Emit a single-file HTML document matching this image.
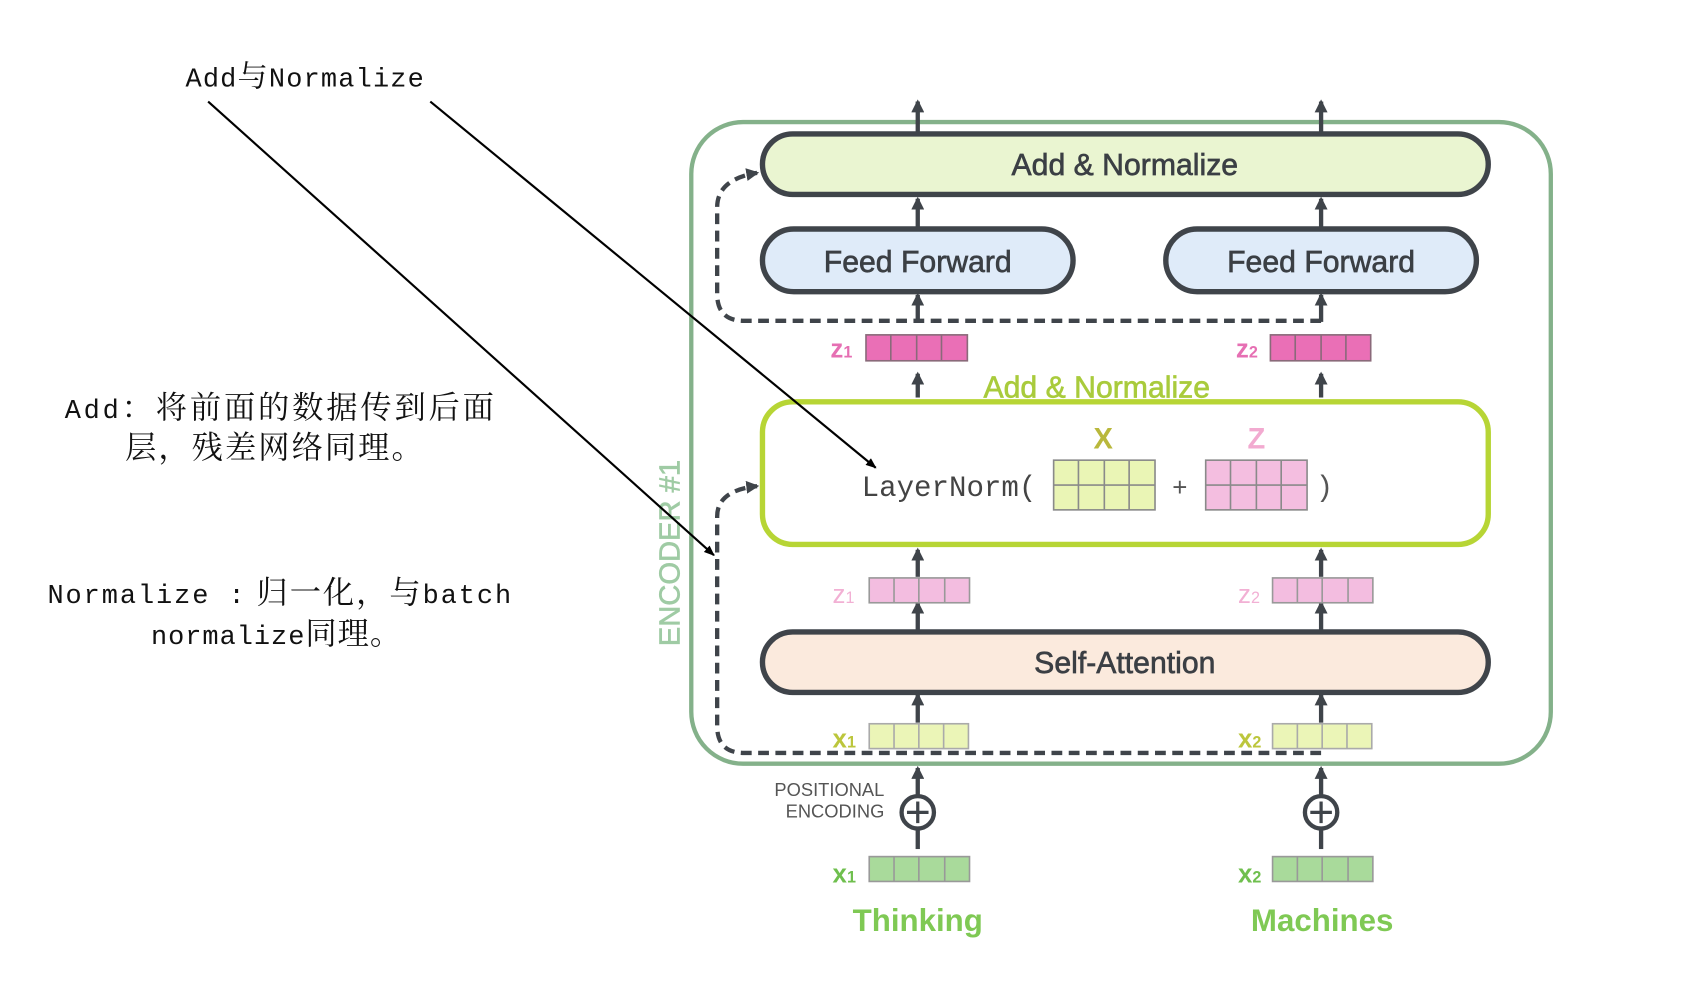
<!DOCTYPE html>
<html><head><meta charset="utf-8"><style>
html,body{margin:0;padding:0;background:#fff;}
svg{display:block}
.s{font-family:"Liberation Sans","DejaVu Sans",sans-serif;}
.m{font-family:"Liberation Mono","Noto Serif CJK SC",monospace;}
.c{font-family:"Noto Serif CJK SC","Noto Sans CJK SC",serif;}
</style></head><body>
<svg width="1691" height="983" viewBox="0 0 1568 910" preserveAspectRatio="none" xmlns="http://www.w3.org/2000/svg">
<defs>
<marker id="ah" markerWidth="12" markerHeight="12" refX="10" refY="6" orient="auto" markerUnits="userSpaceOnUse"><path d="M0,0 L12,6 L0,12 z" fill="#3f444a"/></marker>
<marker id="bk" markerWidth="10" markerHeight="8" refX="9" refY="4" orient="auto" markerUnits="userSpaceOnUse"><path d="M0,0 L10,4 L0,8 z" fill="#000"/></marker>
</defs>
<rect x="641" y="113" width="797" height="594" rx="48" fill="none" stroke="#84b18a" stroke-width="4"/>
<text class="s" x="0" y="0" transform="translate(630,512) rotate(-90)" text-anchor="middle" font-size="27" fill="#9fcba4" stroke="#9fcba4" stroke-width="0.6">ENCODER #1</text>

<g stroke="#3f444a" stroke-width="4" fill="none">
<line x1="851" y1="122" x2="851" y2="94" marker-end="url(#ah)"/>
<line x1="1225" y1="122" x2="1225" y2="94" marker-end="url(#ah)"/>
<line x1="851" y1="212" x2="851" y2="184" marker-end="url(#ah)"/>
<line x1="1225" y1="212" x2="1225" y2="184" marker-end="url(#ah)"/>
<line x1="851" y1="298" x2="851" y2="273" marker-end="url(#ah)"/>
<line x1="1225" y1="298" x2="1225" y2="273" marker-end="url(#ah)"/>
<line x1="851" y1="368" x2="851" y2="346" marker-end="url(#ah)"/>
<line x1="1225" y1="368" x2="1225" y2="346" marker-end="url(#ah)"/>
<line x1="851" y1="534" x2="851" y2="509" marker-end="url(#ah)"/>
<line x1="1225" y1="534" x2="1225" y2="509" marker-end="url(#ah)"/>
<line x1="851" y1="584" x2="851" y2="558" marker-end="url(#ah)"/>
<line x1="1225" y1="584" x2="1225" y2="558" marker-end="url(#ah)"/>
<line x1="851" y1="669" x2="851" y2="643" marker-end="url(#ah)"/>
<line x1="1225" y1="669" x2="1225" y2="643" marker-end="url(#ah)"/>
<line x1="851" y1="738" x2="851" y2="711" marker-end="url(#ah)"/>
<line x1="1225" y1="738" x2="1225" y2="711" marker-end="url(#ah)"/>
<line x1="851" y1="766" x2="851" y2="786"/>
<line x1="1225" y1="766" x2="1225" y2="786"/>
<path d="M1225,297 L690,297 Q665,297 665,272 L665,192 Q665,166 702,160" stroke-dasharray="10 6" marker-end="url(#ah)"/>
<path d="M1225,697 L690,697 Q665,697 665,672 L665,478 Q665,454 702,450" stroke-dasharray="10 6" marker-end="url(#ah)"/>
</g>

<g class="s" font-size="28" fill="#3b3f44" stroke="#3b3f44" stroke-width="0.6" text-anchor="middle">
<rect x="707" y="124" width="673" height="56" rx="28" fill="#eaf5d1" stroke="#3f444a" stroke-width="5"/>
<text x="1043" y="162">Add &amp; Normalize</text>
<rect x="707" y="212" width="288" height="58" rx="29" fill="#dfebf9" stroke="#3f444a" stroke-width="5"/>
<text x="851" y="252">Feed Forward</text>
<rect x="1081" y="212" width="288" height="58" rx="29" fill="#dfebf9" stroke="#3f444a" stroke-width="5"/>
<text x="1225" y="252">Feed Forward</text>
</g>

<g stroke="#8a6a7a" stroke-width="1.5" fill="#ea6fb6">
<rect x="803" y="310" width="94" height="24"/><rect x="1178" y="310" width="93" height="24"/>
</g>
<g stroke="#8a6a7a" stroke-width="1.5">
<line x1="826" y1="310" x2="826" y2="334"/><line x1="850" y1="310" x2="850" y2="334"/><line x1="873" y1="310" x2="873" y2="334"/>
<line x1="1201" y1="310" x2="1201" y2="334"/><line x1="1225" y1="310" x2="1225" y2="334"/><line x1="1248" y1="310" x2="1248" y2="334"/>
</g>
<text class="s" x="770" y="331" font-size="24" font-weight="bold" fill="#e66fb3">z<tspan font-size="15">1</tspan></text>
<text class="s" x="1146" y="331" font-size="24" font-weight="bold" fill="#e66fb3">z<tspan font-size="15">2</tspan></text>

<text class="s" x="1017" y="368" text-anchor="middle" font-size="28" fill="#a9cb3c" stroke="#a9cb3c" stroke-width="0.6">Add &amp; Normalize</text>
<rect x="707" y="372" width="673" height="132" rx="28" fill="#fff" stroke="#b7d535" stroke-width="5"/>
<text class="m" x="799" y="459" font-size="27" fill="#444">LayerNorm(</text>
<text class="s" x="1023" y="415" text-anchor="middle" font-size="27" font-weight="bold" fill="#b9b83c">X</text>
<text class="s" x="1165" y="415" text-anchor="middle" font-size="27" font-weight="bold" fill="#f2aad0">Z</text>
<g stroke="#8a8a8a" stroke-width="1.5">
<rect x="977" y="426" width="94" height="46" fill="#eaf5b5"/>
<line x1="977" y1="449" x2="1071" y2="449"/><line x1="1000" y1="426" x2="1000" y2="472"/><line x1="1024" y1="426" x2="1024" y2="472"/><line x1="1047" y1="426" x2="1047" y2="472"/>
<rect x="1118" y="426" width="94" height="46" fill="#f4bee0"/>
<line x1="1118" y1="449" x2="1212" y2="449"/><line x1="1141" y1="426" x2="1141" y2="472"/><line x1="1165" y1="426" x2="1165" y2="472"/><line x1="1188" y1="426" x2="1188" y2="472"/>
</g>
<text class="s" x="1094" y="459" text-anchor="middle" font-size="24" fill="#555">+</text>
<text class="m" x="1220" y="459" font-size="27" fill="#555">)</text>

<g stroke="#999" stroke-width="1.5">
<rect x="806" y="535" width="93" height="23" fill="#f3bde0"/><line x1="829" y1="535" x2="829" y2="558"/><line x1="852" y1="535" x2="852" y2="558"/><line x1="876" y1="535" x2="876" y2="558"/>
<rect x="1180" y="535" width="93" height="23" fill="#f3bde0"/><line x1="1203" y1="535" x2="1203" y2="558"/><line x1="1226" y1="535" x2="1226" y2="558"/><line x1="1250" y1="535" x2="1250" y2="558"/>
</g>
<text class="s" x="772" y="558" font-size="24" fill="#f2b0d4">z<tspan font-size="15">1</tspan></text>
<text class="s" x="1148" y="558" font-size="24" fill="#f2b0d4">z<tspan font-size="15">2</tspan></text>

<rect x="707" y="585" width="673" height="56" rx="28" fill="#fbeadd" stroke="#3f444a" stroke-width="5"/>
<text class="s" x="1043" y="623" text-anchor="middle" font-size="28" fill="#3b3f44" stroke="#3b3f44" stroke-width="0.6">Self-Attention</text>

<g stroke="#aaa" stroke-width="1.5">
<rect x="806" y="670" width="92" height="23" fill="#ebf5b7"/><line x1="829" y1="670" x2="829" y2="693"/><line x1="852" y1="670" x2="852" y2="693"/><line x1="875" y1="670" x2="875" y2="693"/>
<rect x="1180" y="670" width="92" height="23" fill="#ebf5b7"/><line x1="1203" y1="670" x2="1203" y2="693"/><line x1="1226" y1="670" x2="1226" y2="693"/><line x1="1249" y1="670" x2="1249" y2="693"/>
</g>
<text class="s" x="772" y="692" font-size="24" font-weight="bold" fill="#bcc63c">x<tspan font-size="15">1</tspan></text>
<text class="s" x="1148" y="692" font-size="24" font-weight="bold" fill="#bcc63c">x<tspan font-size="15">2</tspan></text>

<circle cx="851" cy="752" r="15" fill="#fff" stroke="#3f444a" stroke-width="4"/>
<line x1="841" y1="752" x2="861" y2="752" stroke="#3f444a" stroke-width="3"/><line x1="851" y1="742" x2="851" y2="762" stroke="#3f444a" stroke-width="3"/>
<circle cx="1225" cy="752" r="15" fill="#fff" stroke="#3f444a" stroke-width="4"/>
<line x1="1215" y1="752" x2="1235" y2="752" stroke="#3f444a" stroke-width="3"/><line x1="1225" y1="742" x2="1225" y2="762" stroke="#3f444a" stroke-width="3"/>
<text class="s" x="820" y="737" text-anchor="end" font-size="17" fill="#555">POSITIONAL</text>
<text class="s" x="820" y="757" text-anchor="end" font-size="17" fill="#555">ENCODING</text>

<g stroke="#999" stroke-width="1.5">
<rect x="806" y="793" width="93" height="23" fill="#a9da9b"/><line x1="829" y1="793" x2="829" y2="816"/><line x1="852" y1="793" x2="852" y2="816"/><line x1="876" y1="793" x2="876" y2="816"/>
<rect x="1180" y="793" width="93" height="23" fill="#a9da9b"/><line x1="1203" y1="793" x2="1203" y2="816"/><line x1="1226" y1="793" x2="1226" y2="816"/><line x1="1250" y1="793" x2="1250" y2="816"/>
</g>
<text class="s" x="772" y="817" font-size="24" font-weight="bold" fill="#6fbf4e">x<tspan font-size="15">1</tspan></text>
<text class="s" x="1148" y="817" font-size="24" font-weight="bold" fill="#6fbf4e">x<tspan font-size="15">2</tspan></text>
<text class="s" x="851" y="862" text-anchor="middle" font-size="29" font-weight="bold" fill="#7fc954">Thinking</text>
<text class="s" x="1226" y="862" text-anchor="middle" font-size="29" font-weight="bold" fill="#7fc954">Machines</text>

<line x1="193" y1="94" x2="662" y2="514" stroke="#000" stroke-width="2" marker-end="url(#bk)"/>
<line x1="399" y1="94" x2="812" y2="433" stroke="#000" stroke-width="2" marker-end="url(#bk)"/>
<g fill="#111">
<text x="172" y="80" textLength="221" lengthAdjust="spacing"><tspan class="m" font-size="25">Add</tspan><tspan class="c" font-size="28">与</tspan><tspan class="m" font-size="25">Normalize</tspan></text>
<text x="60" y="387" textLength="398" lengthAdjust="spacing"><tspan class="m" font-size="25">Add</tspan><tspan class="c" font-size="29">：将前面的数据传到后面</tspan></text>
<text x="116" y="424" class="c" font-size="29" textLength="276" lengthAdjust="spacing">层，残差网络同理。</text>
<text x="44" y="558" textLength="430" lengthAdjust="spacing"><tspan class="m" font-size="25">Normalize :</tspan><tspan class="c" font-size="29"> 归一化，与</tspan><tspan class="m" font-size="25">batch</tspan></text>
<text x="140" y="596" textLength="232" lengthAdjust="spacing"><tspan class="m" font-size="25">normalize</tspan><tspan class="c" font-size="29">同理。</tspan></text>
</g>
</svg>
</body></html>
